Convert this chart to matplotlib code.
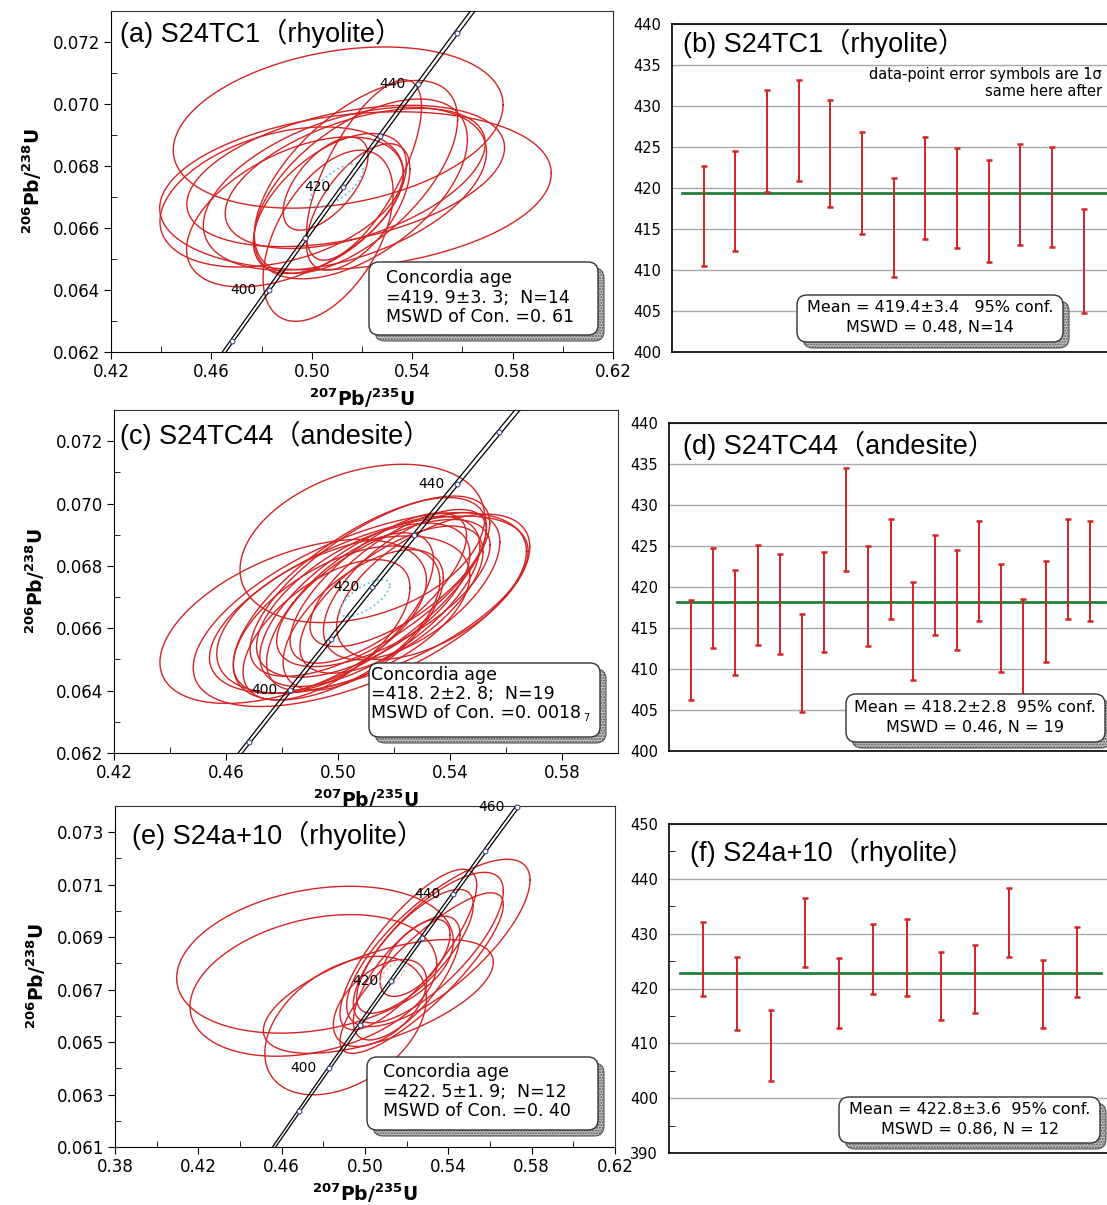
import numpy as np
import matplotlib
matplotlib.use('Agg')
import matplotlib.pyplot as plt
from matplotlib.patches import FancyBboxPatch
from matplotlib.transforms import IdentityTransform
from matplotlib.ticker import MultipleLocator, FormatStrFormatter

plt.rcParams['font.family'] = ['DejaVu Sans', 'Noto Sans CJK SC']
plt.rcParams['mathtext.fontset'] = 'dejavusans'

# decay constants (1/yr) and relative band half-width for U235
L238 = 1.55125e-10
L235 = 9.8485e-10
L235_ERR = 0.00137

# ---- (a) S24TC1 ellipses: centre, half-extent in x and y, correlation
a_cx = [0.5105, 0.5174, 0.5208, 0.5176, 0.5135, 0.5132, 0.4933, 0.5065, 0.5072, 0.5055, 0.5185, 0.4880, 0.5173, 0.5195]
a_cy = [0.06924, 0.06720, 0.06787, 0.06765, 0.06768, 0.06727, 0.06652, 0.06575, 0.06679, 0.06743, 0.06668, 0.06700, 0.06760, 0.06726]
a_sx = [0.0657, 0.0780, 0.0229, 0.0405, 0.0633, 0.0564, 0.0432, 0.0259, 0.0305, 0.0169, 0.0206, 0.0485, 0.0518, 0.0425]
a_sy = [0.00260, 0.00255, 0.00291, 0.00311, 0.00228, 0.00263, 0.00242, 0.00276, 0.00226, 0.00150, 0.00204, 0.00226, 0.00226, 0.00290]
a_rho = [0.28, 0.22, 0.70, 0.60, 0.40, 0.45, 0.50, 0.50, 0.55, 0.60, 0.60, 0.35, 0.50, 0.55]
a_conc = [0.5099, 0.06738, 0.0106, 0.0007, 0.7]

# ---- (c) S24TC44
c_cx = [0.5087, 0.4840, 0.5078, 0.5110, 0.5078, 0.5114, 0.5114, 0.5162, 0.4995, 0.5019, 0.5144, 0.5043, 0.5215, 0.5340, 0.5090, 0.4959, 0.5263, 0.5191, 0.5090]
c_cy = [0.06872, 0.06622, 0.06660, 0.06676, 0.06705, 0.06735, 0.06686, 0.06713, 0.06617, 0.06644, 0.06729, 0.06654, 0.06761, 0.06733, 0.06627, 0.06595, 0.06735, 0.06692, 0.06690]
c_sx = [0.0437, 0.0476, 0.0595, 0.0569, 0.0452, 0.0428, 0.0393, 0.0381, 0.0369, 0.0452, 0.0315, 0.0298, 0.0315, 0.0345, 0.0286, 0.0298, 0.0315, 0.0327, 0.0381]
c_sy = [0.00254, 0.00263, 0.00311, 0.00284, 0.00314, 0.00289, 0.00273, 0.00236, 0.00247, 0.00252, 0.00241, 0.00252, 0.00220, 0.00233, 0.00225, 0.00225, 0.00236, 0.00236, 0.00247]
c_rho = [0.33, 0.50, 0.60, 0.60, 0.70, 0.70, 0.65, 0.65, 0.55, 0.50, 0.70, 0.65, 0.70, 0.55, 0.60, 0.60, 0.60, 0.65, 0.60]
c_conc = [0.5096, 0.06697, 0.0089, 0.00059, 0.7]

# ---- (e) S24a+10
e_cx = [0.4760, 0.4752, 0.4907, 0.5352, 0.5208, 0.5304, 0.5240, 0.5072, 0.5272, 0.5064, 0.5240, 0.5200]
e_cy = [0.06814, 0.06716, 0.06563, 0.06878, 0.06853, 0.06860, 0.06846, 0.06649, 0.06763, 0.06674, 0.06821, 0.06744]
e_sx = [0.0664, 0.0592, 0.0388, 0.0440, 0.0328, 0.0360, 0.0280, 0.0224, 0.0392, 0.0552, 0.0168, 0.0256]
e_sy = [0.00280, 0.00270, 0.00264, 0.00319, 0.00306, 0.00287, 0.00236, 0.00166, 0.00306, 0.00217, 0.00147, 0.00236]
e_rho = [0.25, 0.30, 0.40, 0.75, 0.80, 0.75, 0.75, 0.50, 0.85, 0.60, 0.60, 0.70]
e_conc = [0.5136, 0.06763, 0.0064, 0.0005, 0.7]

# concordia age marks (Ma)
ace_marks = [390, 400, 410, 420, 430, 440, 450]
e_marks = [390, 400, 410, 420, 430, 440, 450, 460]
ac_labels = [400, 420, 440]
e_labels = [400, 420, 440, 460]

# ---- weighted mean plots: 206Pb/238U ages and 1 sigma errors (Ma)
b_age = [416.6, 418.4, 425.7, 427.0, 424.2, 420.6, 415.2, 420.0, 418.8, 417.2, 419.2, 418.9, 411.1, 419.3]
b_err = [6.1, 6.1, 6.2, 6.2, 6.5, 6.2, 6.0, 6.2, 6.1, 6.2, 6.2, 6.1, 6.3, 6.2]
b_mean = 419.4
d_age = [412.3, 418.7, 415.7, 419.0, 417.9, 410.7, 418.2, 428.2, 418.9, 422.2, 414.6, 420.3, 418.4, 421.9, 416.2, 412.0, 417.0, 422.2, 422.0]
d_err = [6.1, 6.1, 6.4, 6.1, 6.1, 6.0, 6.1, 6.3, 6.1, 6.1, 6.0, 6.1, 6.1, 6.1, 6.6, 6.5, 6.2, 6.1, 6.1]
d_mean = 418.2
f_age = [425.4, 419.1, 409.6, 430.2, 419.2, 425.4, 425.6, 420.4, 421.7, 432.1, 419.0, 424.8]
f_err = [6.8, 6.7, 6.5, 6.3, 6.4, 6.4, 7.0, 6.2, 6.2, 6.3, 6.2, 6.4]
f_mean = 422.8

W, H = 1107, 1205
fig = plt.figure(figsize=(W / 100, H / 100), dpi=100)

RED = '#d42424'
GREEN = '#23803a'
TITLE_FONT = ['Liberation Sans', 'Noto Sans CJK SC']


def px_axes(left, top, right, bottom):
    return fig.add_axes([left / W, 1 - bottom / H, (right - left) / W, (bottom - top) / H])


def draw_ellipses(ax, cx, cy, sx, sy, rho, **kw):
    t = np.linspace(0, 2 * np.pi, 240)
    for x0, y0, a, b, r in zip(cx, cy, sx, sy, rho):
        ax.plot(x0 + a * np.cos(t), y0 + b * (r * np.cos(t) + np.sqrt(1 - r * r) * np.sin(t)), **kw)


def draw_concordia(ax, marks, labels):
    t = np.linspace(300, 520, 400) * 1e6
    y = np.exp(L238 * t) - 1
    for k in (-1, 1):
        ax.plot(np.exp(L235 * (1 + k * L235_ERR) * t) - 1, y, color='k', lw=0.9, zorder=3)
    tm = np.array(marks) * 1e6
    ax.plot(np.exp(L235 * tm) - 1, np.exp(L238 * tm) - 1, 'o', ms=3.5, mfc='white',
            mec='#3a4a8a', mew=0.8, zorder=4, clip_on=False)
    for age in labels:
        tt = age * 1e6
        ax.annotate(str(age), (np.exp(L235 * tt) - 1, np.exp(L238 * tt) - 1), xytext=(-9, 0),
                    textcoords='offset points', ha='right', va='center', fontsize=10,
                    zorder=4, annotation_clip=False)


def shadow_box(left, top, right, bottom, off=6):
    y0 = H - bottom
    sh = FancyBboxPatch((left + off, y0 - off), right - left, bottom - top,
                        boxstyle='round,pad=0,rounding_size=10', transform=IdentityTransform(),
                        fc='#c4c4c4', ec='#555555', lw=0.8, hatch='......', zorder=5)
    fig.add_artist(sh)
    bx = FancyBboxPatch((left, y0), right - left, bottom - top,
                        boxstyle='round,pad=0,rounding_size=10', transform=IdentityTransform(),
                        fc='white', ec='#333333', lw=1.0, zorder=6)
    fig.add_artist(bx)


def ftext(x, y, s, **kw):
    fig.text(x / W, 1 - y / H, s, zorder=7, **kw)


def conc_axes(box, xlim, ylim, title, tpos):
    ax = px_axes(*box)
    ax.set_xlim(*xlim)
    ax.set_ylim(*ylim)
    ax.set_xticks(np.arange(xlim[0], xlim[1] + 1e-6, 0.04))
    ax.set_yticks(np.arange(ylim[0], ylim[1] + 1e-7, 0.002))
    ax.xaxis.set_minor_locator(MultipleLocator(0.02))
    ax.yaxis.set_minor_locator(MultipleLocator(0.001))
    ax.xaxis.set_major_formatter(FormatStrFormatter('%.2f'))
    ax.yaxis.set_major_formatter(FormatStrFormatter('%.3f'))
    ax.tick_params(which='major', direction='out', length=5, labelsize=12, pad=3)
    ax.tick_params(which='minor', direction='in', length=4)
    for s in ax.spines.values():
        s.set_color('#333333')
    ax.spines['left'].set_color('k')
    ax.spines['bottom'].set_color('k')
    ax.set_xlabel(r'$^{\mathbf{207}}$Pb/$^{\mathbf{235}}$U', fontsize=13.5, fontweight='bold', labelpad=4)
    ax.set_ylabel(r'$^{\mathbf{206}}$Pb/$^{\mathbf{238}}$U', fontsize=13.5, fontweight='bold', labelpad=6)
    ax.text(tpos[0], tpos[1], title, transform=ax.transAxes, fontsize=19.5, family=TITLE_FONT,
            ha='left', va='center', zorder=8)
    return ax


def mean_axes(box, ylim, ystep, ages, errs, mean, xmax, line_end, title, tpos, minor=False):
    ax = px_axes(*box)
    n = len(ages)
    x = np.arange(1, n + 1)
    ax.set_xlim(0, xmax)
    ax.set_ylim(*ylim)
    ax.yaxis.set_major_locator(MultipleLocator(ystep))
    ax.grid(axis='y', color='#a9a9a9', lw=1.0)
    ax.set_axisbelow(True)
    ax.set_xticks([])
    ax.tick_params(axis='y', which='major', length=0, labelsize=10.5, pad=8)
    if minor:
        ax.yaxis.set_minor_locator(MultipleLocator(ystep / 2))
        ax.tick_params(axis='y', which='minor', direction='in', length=4)
    ax.spines['right'].set_visible(False)
    for s in ('left', 'top', 'bottom'):
        ax.spines[s].set_linewidth(1.2)
    ax.plot([line_end[0], line_end[1]], [mean, mean], color=GREEN, lw=2.0, zorder=2)
    ax.errorbar(x, ages, yerr=errs, fmt='none', ecolor=RED, elinewidth=1.4,
                capsize=2.2, capthick=1.8, zorder=3)
    ax.text(tpos[0], tpos[1], title, transform=ax.transAxes, fontsize=19.5, family=TITLE_FONT,
            ha='left', va='center')
    return ax


# ---------- (a)
ax = conc_axes((111, 11, 613, 352), (0.42, 0.62), (0.062, 0.073),
               '(a) S24TC1（rhyolite）', (0.018, 0.935))
draw_ellipses(ax, a_cx, a_cy, a_sx, a_sy, a_rho, color=RED, lw=1.0, zorder=2)
draw_ellipses(ax, *[[v] for v in a_conc], color='#5fbfdc', lw=1.3, ls=':', zorder=2)
draw_concordia(ax, ace_marks, ac_labels)
shadow_box(369, 262, 598, 335)
ftext(386, 278, 'Concordia age', fontsize=12.5, va='center')
ftext(386, 298, '=419. 9±3. 3;  N=14', fontsize=12.5, va='center')
ftext(386, 317, 'MSWD of Con. =0. 61', fontsize=12.5, va='center')

# ---------- (c)
ax = conc_axes((114, 410, 618, 753), (0.42, 0.60), (0.062, 0.073),
               '(c) S24TC44（andesite）', (0.012, 0.927))
draw_ellipses(ax, c_cx, c_cy, c_sx, c_sy, c_rho, color=RED, lw=1.0, zorder=2)
draw_ellipses(ax, *[[v] for v in c_conc], color='#5fbfdc', lw=1.3, ls=':', zorder=2)
draw_concordia(ax, ace_marks, ac_labels)
shadow_box(369, 663, 600, 737)
ftext(371, 675, 'Concordia age', fontsize=12.5, va='center')
ftext(371, 694, '=418. 2±2. 8;  N=19', fontsize=12.5, va='center')
ftext(371, 713, 'MSWD of Con. =0. 0018', fontsize=12.5, va='center')
ftext(583, 718, '7', fontsize=7, va='center')

# ---------- (e)
ax = conc_axes((115, 806, 615, 1147), (0.38, 0.62), (0.061, 0.074),
               '(e) S24a+10（rhyolite）', (0.034, 0.915))
draw_ellipses(ax, e_cx, e_cy, e_sx, e_sy, e_rho, color=RED, lw=1.0, zorder=2)
draw_ellipses(ax, *[[v] for v in e_conc], color='#f0b0bc', lw=1.3, ls=':', zorder=2)
draw_concordia(ax, e_marks, e_labels)
shadow_box(367, 1057, 598, 1130)
ftext(383, 1072, 'Concordia age', fontsize=12.5, va='center')
ftext(383, 1092, '=422. 5±1. 9;  N=12', fontsize=12.5, va='center')
ftext(383, 1111, 'MSWD of Con. =0. 40', fontsize=12.5, va='center')

# ---------- (b)
ax = mean_axes((672, 24, 1147, 352), (400, 440), 5, b_age, b_err, b_mean, 15, (0.3, 14.7),
               '(b) S24TC1（rhyolite）', (0.023, 0.942))
ax.text(0.905, 0.87, 'data-point error symbols are 1σ\nsame here after', transform=ax.transAxes,
        fontsize=10.5, ha='right', va='top', linespacing=1.2)
shadow_box(797, 295, 1063, 342)
ftext(930, 307, 'Mean = 419.4±3.4   95% conf.', fontsize=11.5, ha='center', va='center')
ftext(930, 328, 'MSWD = 0.48, N=14', fontsize=11.5, ha='center', va='center')

# ---------- (d)
ax = mean_axes((669, 423, 1112, 751), (400, 440), 5, d_age, d_err, d_mean, 20, (0.35, 19.7),
               '(d) S24TC44（andesite）', (0.032, 0.933))
shadow_box(846, 694, 1105, 742)
ftext(975, 707, 'Mean = 418.2±2.8  95% conf.', fontsize=11.5, ha='center', va='center')
ftext(975, 728, 'MSWD = 0.46, N = 19', fontsize=11.5, ha='center', va='center')

# ---------- (f)
ax = mean_axes((669, 824, 1111, 1153), (390, 450), 10, f_age, f_err, f_mean, 13, (0.33, 12.7),
               '(f) S24a+10（rhyolite）', (0.048, 0.915), minor=True)
shadow_box(839, 1097, 1100, 1143)
ftext(970, 1110, 'Mean = 422.8±3.6  95% conf.', fontsize=11.5, ha='center', va='center')
ftext(970, 1130, 'MSWD = 0.86, N = 12', fontsize=11.5, ha='center', va='center')

fig.savefig('out.png', dpi=100)
